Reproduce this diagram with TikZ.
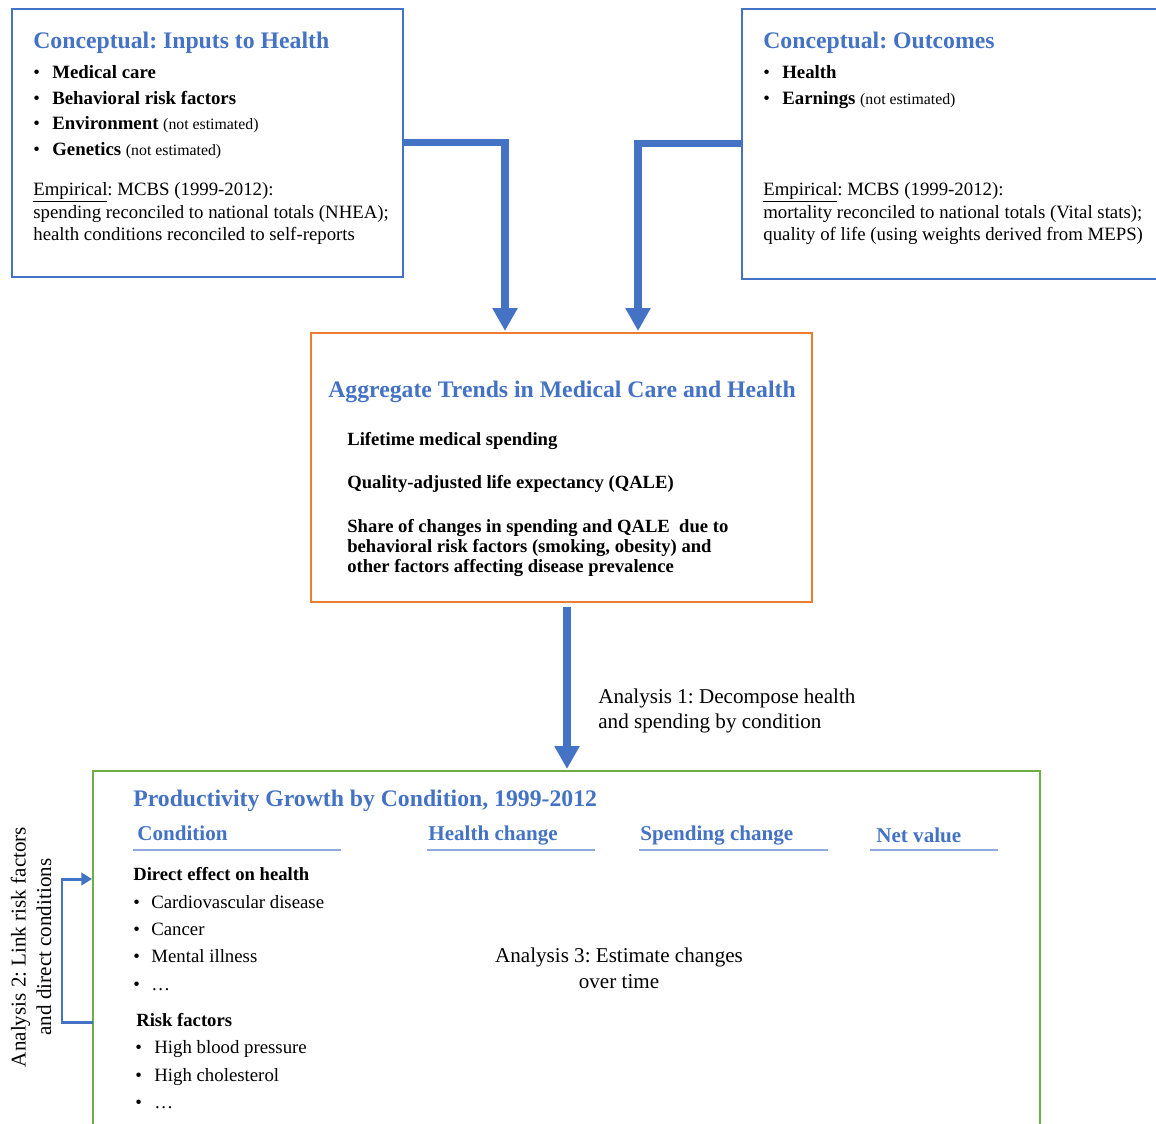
\documentclass[tikz,border=0pt]{standalone}
\usepackage{fontspec}
\setmainfont{Liberation Serif}
\usetikzlibrary{arrows.meta}
\definecolor{hblue}{HTML}{4472C4}
\definecolor{hline}{HTML}{8FAADC}
\definecolor{horange}{HTML}{ED7D31}
\definecolor{hgreen}{HTML}{70AD47}
\newcommand{\itembul}[1]{\makebox[#1][l]{\textbullet}}
\newcommand{\notest}{{\fontsize{9}{10}\selectfont (not estimated)}}
\frenchspacing

\begin{document}
\begin{tikzpicture}
[x=0.02cm, y=-0.02cm, box/.style={draw, line width=1.2pt, inner sep=0pt, outer sep=0pt, anchor=north west}, title/.style={anchor=base west, inner sep=0pt, text=hblue, font=\fontsize{13.5}{16}\selectfont\bfseries}, item/.style={anchor=base west, inner sep=0pt, font=\fontsize{10.7}{13}\selectfont}, colhead/.style={anchor=base west, inner sep=0pt, text=hblue, font=\fontsize{12}{14}\selectfont\bfseries}, analysis/.style={inner sep=0pt, font=\fontsize{12}{14.5}\selectfont}, colrule/.style={draw=hline, line width=0.9pt}, flow/.style={draw=hblue, line width=4pt, -{Triangle[width=13.5pt,length=13pt]}}, loopback/.style={draw=hblue, line width=1.7pt, -{Triangle[width=7pt,length=6pt]}}]
    \useasboundingbox (0,0) rectangle (1156,1123);
    \clip (0,0) rectangle (1156,1123);
    % boxes
    \node[box, draw=hblue, minimum width=7.82cm, minimum height=5.36cm] (inputs) at (12,9) {};
    \node[box, draw=hblue, minimum width=8.6cm, minimum height=5.4cm] (outcomes) at (742,9) {};
    \node[box, draw=horange, minimum width=10.02cm, minimum height=5.38cm] (trends) at (311,333) {};
    \node[box, draw=hgreen, minimum width=18.94cm, minimum height=7.8cm] (prod) at (93,771) {};
    \coordinate (inA) at (505,331);
    \coordinate (outA) at (638,331);
    \coordinate (a1top) at (567,607);
    \coordinate (a1end) at (567,769);
    \coordinate (rf) at (93,1022);
    \coordinate (de) at (92,879);
    % inputs
    \node[title] (in-t) at (33,48) {Conceptual: Inputs to Health};
    \node[item] (in-1) at (33,78) {\itembul{0.38cm}\textbf{Medical care}};
    \node[item] (in-2) at (33,104) {\itembul{0.38cm}\textbf{Behavioral risk factors}};
    \node[item] (in-3) at (33,129) {\itembul{0.38cm}\textbf{Environment} \notest};
    \node[item] (in-4) at (33,155) {\itembul{0.38cm}\textbf{Genetics} \notest};
    \node[item] (in-e1) at (33,195) {\underline{Empirical}: MCBS (1999-2012):};
    \node[item] (in-e2) at (33,218) {spending reconciled to national totals (NHEA);};
    \node[item] (in-e3) at (33,240) {health conditions reconciled to self-reports};
    % outcomes
    \node[title] (out-t) at (763,48) {Conceptual: Outcomes};
    \node[item] (out-1) at (763,78) {\itembul{0.38cm}\textbf{Health}};
    \node[item] (out-2) at (763,104) {\itembul{0.38cm}\textbf{Earnings} \notest};
    \node[item] (out-e1) at (763,195) {\underline{Empirical}: MCBS (1999-2012):};
    \node[item] (out-e2) at (763,218) {mortality reconciled to national totals (Vital stats);};
    \node[item] (out-e3) at (763,240) {quality of life (using weights derived from MEPS)};
    % trends
    \node[title] (tr-t) at (328,397) {Aggregate Trends in Medical Care and Health};
    \node[item, font=\fontsize{10.6}{13}\selectfont\bfseries] (tr-1) at (347,445) {Lifetime medical spending};
    \node[item, font=\fontsize{10.6}{13}\selectfont\bfseries] (tr-2) at (347,488) {Quality-adjusted life expectancy (QALE)};
    \node[item, font=\fontsize{10.6}{13}\selectfont\bfseries] (tr-3) at (347,532) {Share of changes in spending and QALE\ \ due to};
    \node[item, font=\fontsize{10.6}{13}\selectfont\bfseries] (tr-4) at (347,552) {behavioral risk factors (smoking, obesity) and};
    \node[item, font=\fontsize{10.6}{13}\selectfont\bfseries] (tr-5) at (347,572) {other factors affecting disease prevalence};
    % productivity
    \node[title] (pr-t) at (133,806) {Productivity Growth by Condition, 1999-2012};
    \node[colhead] (h-cond) at (137,840) {Condition};
    \node[colhead] (h-health) at (428,840) {Health change};
    \node[colhead] (h-spend) at (640,840) {Spending change};
    \node[colhead] (h-net) at (876,842) {Net value};
    \draw[colrule] (133,850) -- (341,850);
    \draw[colrule] (427,850) -- (595,850);
    \draw[colrule] (639,850) -- (828,850);
    \draw[colrule] (870,850) -- (998,850);
    \node[item, font=\fontsize{10.6}{13}\selectfont\bfseries] (pr-d) at (133,880) {Direct effect on health};
    \node[item] (pr-d1) at (133,908) {\itembul{0.36cm}Cardiovascular disease};
    \node[item] (pr-d2) at (133,935) {\itembul{0.36cm}Cancer};
    \node[item] (pr-d3) at (133,962) {\itembul{0.36cm}Mental illness};
    \node[item] (pr-d4) at (133,990) {\itembul{0.36cm}\dots};
    \node[item, font=\fontsize{10.6}{13}\selectfont\bfseries] (pr-r) at (136,1026) {Risk factors};
    \node[item] (pr-r1) at (135,1053) {\itembul{0.38cm}High blood pressure};
    \node[item] (pr-r2) at (135,1081) {\itembul{0.38cm}High cholesterol};
    \node[item] (pr-r3) at (135,1108) {\itembul{0.38cm}\dots};
    \node[analysis, anchor=base] (an3a) at (619,962) {Analysis 3: Estimate changes};
    \node[analysis, anchor=base] (an3b) at (619,988) {over time};
    % analysis arrows
    \node[analysis, anchor=base west] (an1a) at (598,703) {Analysis 1: Decompose health};
    \node[analysis, anchor=base west] (an1b) at (598,728) {and spending by condition};
    \node[analysis, rotate=90, align=center] (an2) at (31,947) {Analysis 2: Link risk factors\\and direct conditions};
    \draw[flow] (inputs.east) -| (inA);
    \draw[flow] (outcomes.west) -| (outA);
    \draw[flow, line width=5pt] (a1top) -- (a1end);
    \draw[loopback] (rf) -- ++(-31,0) |- (de);
\end{tikzpicture}
\end{document}
